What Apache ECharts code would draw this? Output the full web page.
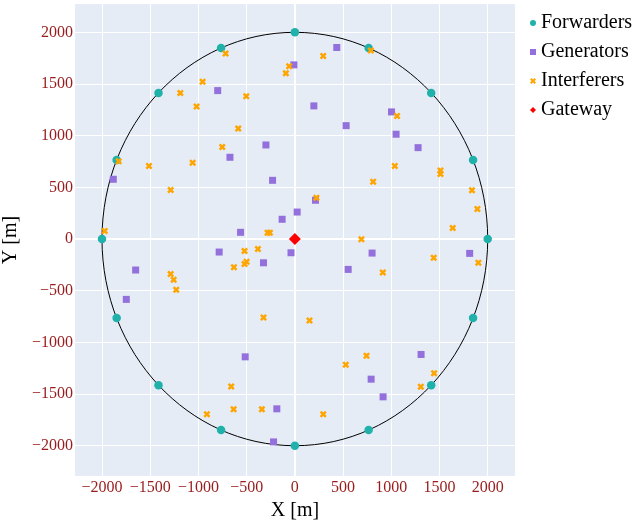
<!DOCTYPE html>
<html>
<head>
<meta charset="utf-8">
<script src="https://cdn.jsdelivr.net/npm/echarts@6/dist/echarts.min.js"></script>
<style>html,body{margin:0;padding:0;background:#fff;}#chart{width:637px;height:520px;}</style>
</head>
<body>
<div id="chart"></div>
<script>
// ---- data ----
const xTicks = [-2000, -1500, -1000, -500, 0, 500, 1000, 1500, 2000];
const yTicks = [-2000, -1500, -1000, -500, 0, 500, 1000, 1500, 2000];
const circleRadius = [2000];
const forwarders = [
  [2000, 0], [1848, 765], [1414, 1414], [765, 1848], [0, 2000], [-765, 1848], [-1414, 1414], [-1848, 765],
  [-2000, 0], [-1848, -765], [-1414, -1414], [-765, -1848], [0, -2000], [765, -1848], [1414, -1414], [1848, -765]
];
const generators = [
  [-10, 1685], [435, 1853], [-800, 1436], [197, 1288], [532, 1097], [1002, 1230], [1050, 1014], [1278, 884],
  [-300, 910], [-673, 791], [-231, 568], [-1883, 578], [-132, 191], [-563, 65], [24, 261], [214, 375],
  [-785, -126], [-325, -230], [-40, -133], [-1651, -300], [-1748, -584], [-515, -1140], [-187, -1643], [-221, -1963],
  [801, -136], [553, -294], [1813, -139], [1309, -1117], [791, -1356], [915, -1527]
];
const interferers = [
  [-718, 1795], [-957, 1521], [-1188, 1414], [-1019, 1282], [-504, 1382], [-587, 1069], [-753, 891], [-1827, 752],
  [-1513, 707], [-1060, 739], [-1288, 475], [-1972, 77], [-283, 61], [-259, 61], [-59, 1672], [-93, 1604],
  [294, 1772], [788, 1824], [1060, 1191], [1036, 707], [1510, 662], [1510, 630], [812, 555], [1837, 471],
  [1893, 291], [1637, 106], [224, 400], [690, -3], [-522, -116], [-383, -97], [-501, -219], [-522, -242],
  [-632, -274], [-1288, -339], [-1257, -394], [-1230, -491], [-325, -759], [-660, -1427], [-912, -1695], [-635, -1646],
  [-342, -1646], [912, -323], [1440, -181], [1903, -230], [152, -788], [743, -1130], [528, -1217], [1444, -1298],
  [1306, -1430], [294, -1695]
];
const gateway = [[0, 0]];

// ---- chart ----
const xPath = 'path://M0,2.5L2.5,0L5,2.5L7.5,0L10,2.5L7.5,5L10,7.5L7.5,10L5,7.5L2.5,10L0,7.5L2.5,5Z';
const fmt = v => (v < 0 ? '\u2212' + Math.abs(v) : String(v));
const serif = '"Liberation Serif", "DejaVu Serif", serif';
const tickColor = '#991b1b';

const gridLines = xTicks.map(v => ({ xAxis: v, lineStyle: { width: v === 0 ? 2 : 1 } }))
  .concat(yTicks.map(v => ({ yAxis: v, lineStyle: { width: v === 0 ? 2 : 1 } })));

const chart = echarts.init(document.getElementById('chart'), null, { renderer: 'canvas' });
chart.setOption({
  animation: false,
  backgroundColor: '#ffffff',
  textStyle: { fontFamily: serif },
  grid: {
    left: 75, right: 122, top: 4, bottom: 44, show: true, backgroundColor: '#E5ECF6', borderWidth: 0,
    containLabel: false, outerBoundsMode: 'none'
  },
  xAxis: {
    type: 'value', min: -2280, max: 2283,
    name: 'X [m]', nameLocation: 'middle', nameGap: 25,
    nameTextStyle: { fontFamily: serif, fontSize: 20, color: '#000' },
    axisLine: { show: false }, axisTick: { show: false, customValues: xTicks },
    splitLine: { show: false },
    axisLabel: { customValues: xTicks, formatter: fmt, color: tickColor, fontFamily: serif, fontSize: 16, margin: 4 }
  },
  yAxis: {
    type: 'value', min: -2293, max: 2274,
    name: 'Y [m]', nameLocation: 'middle', nameGap: 46,
    nameTextStyle: { fontFamily: serif, fontSize: 20, color: '#000' },
    axisLine: { show: false }, axisTick: { show: false, customValues: yTicks },
    splitLine: { show: false },
    axisLabel: { customValues: yTicks, formatter: fmt, color: tickColor, fontFamily: serif, fontSize: 16, margin: 2 }
  },
  legend: {
    orient: 'vertical', left: 530, top: 13, padding: 0,
    itemWidth: 6, itemHeight: 6, itemGap: 9, itemTextGap: 4,
    textStyle: { fontFamily: serif, fontSize: 20, color: '#000' },
    data: ['Forwarders', 'Generators', 'Interferers', 'Gateway']
  },
  series: [
    {
      name: 'grid', type: 'line', data: [], z: 0, silent: true,
      markLine: {
        z: 0, zlevel: 0,
        silent: true, symbol: ['none', 'none'], animation: false,
        label: { show: false },
        lineStyle: { color: '#ffffff', type: 'solid', width: 1 },
        emphasis: { disabled: true },
        data: gridLines
      }
    },
    {
      name: 'circle', type: 'custom', z: 1, silent: true, clip: false,
      data: circleRadius.map(r => [0, 0, r]),
      renderItem: (params, api) => {
        const c = api.coord([api.value(0), api.value(1)]);
        const ex = api.coord([api.value(0) + api.value(2), api.value(1)]);
        const ey = api.coord([api.value(0), api.value(1) + api.value(2)]);
        return {
          type: 'ellipse',
          shape: { cx: c[0], cy: c[1], rx: Math.abs(ex[0] - c[0]), ry: Math.abs(c[1] - ey[1]) },
          style: { fill: 'none', stroke: '#000000', lineWidth: 1 }
        };
      }
    },
    {
      name: 'Forwarders', type: 'scatter', z: 3, data: forwarders,
      symbol: 'circle', symbolSize: 8.5, itemStyle: { color: '#20B2AA', opacity: 1 }
    },
    {
      name: 'Generators', type: 'scatter', z: 3, data: generators,
      symbol: 'rect', symbolSize: 7, itemStyle: { color: '#9370DB', opacity: 1 }
    },
    {
      name: 'Interferers', type: 'scatter', z: 3, data: interferers,
      symbol: xPath, symbolSize: 7, itemStyle: { color: '#FFA500', opacity: 1 }
    },
    {
      name: 'Gateway', type: 'scatter', z: 4, data: gateway,
      symbol: 'diamond', symbolSize: 12, itemStyle: { color: '#FF0000', opacity: 1 }
    }
  ]
});
</script>
</body>
</html>
